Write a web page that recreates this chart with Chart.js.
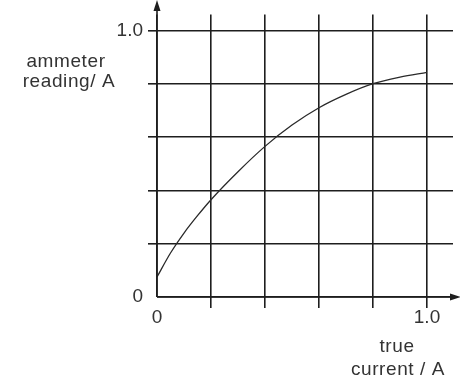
<!DOCTYPE html>
<html>
<head>
<meta charset="utf-8">
<script src="https://cdn.jsdelivr.net/npm/chart.js@4.4.1/dist/chart.umd.min.js"></script>
<style>
  html, body { margin: 0; padding: 0; background: #ffffff; }
  #wrap { width: 460px; height: 383px; }
</style>
</head>
<body>
<div id="wrap"><canvas id="c" width="460" height="383"></canvas></div>
<script>
// True current through the meter (A)
const trueCurrent = [0, 0.05, 0.1, 0.15, 0.2, 0.3, 0.4, 0.5, 0.6, 0.7, 0.8, 0.9, 1.0];
// Corresponding ammeter reading (A)
const ammeterReading = [0.075, 0.165, 0.24, 0.305, 0.365, 0.47, 0.565, 0.645, 0.71, 0.76, 0.80, 0.825, 0.843];
// Grid / tick positions on both axes
const gridValues = [0, 0.2, 0.4, 0.6, 0.8, 1.0];
const labelledTicks = { 0: '0', 1: '1.0' };
const yTitle = ['ammeter', 'reading/ A'];
const xTitle = ['true', 'current / A'];

const INK = '#1e1e1e';
const TEXT = '#333333';
const FONT = '"Liberation Sans", Arial, sans-serif';

const points = trueCurrent.map((x, i) => ({ x, y: ammeterReading[i] }));

// Arrowheads on the axes and the two-line axis captions
const axisDecor = {
  id: 'axisDecor',
  afterDraw(chart) {
    const { ctx, scales: { x, y } } = chart;
    const x0 = x.getPixelForValue(0), y0 = y.getPixelForValue(0);
    ctx.save();
    ctx.strokeStyle = INK;
    ctx.fillStyle = INK;
    ctx.lineWidth = 1.6;
    // vertical axis extension + arrow
    ctx.beginPath();
    ctx.moveTo(x0, y0);
    ctx.lineTo(x0, 6);
    ctx.stroke();
    ctx.beginPath();
    ctx.moveTo(x0, 0);
    ctx.lineTo(x0 - 3.5, 11);
    ctx.lineTo(x0 + 3.5, 11);
    ctx.closePath();
    ctx.fill();
    // horizontal axis extension + arrow
    ctx.beginPath();
    ctx.moveTo(x0, y0);
    ctx.lineTo(455, y0);
    ctx.stroke();
    ctx.beginPath();
    ctx.moveTo(461, y0);
    ctx.lineTo(450, y0 - 3.5);
    ctx.lineTo(450, y0 + 3.5);
    ctx.closePath();
    ctx.fill();

    // captions
    ctx.fillStyle = TEXT;
    ctx.font = '19px ' + FONT;
    if ('letterSpacing' in ctx) ctx.letterSpacing = '0.6px';
    ctx.textAlign = 'center';
    ctx.textBaseline = 'alphabetic';
    ctx.fillText(yTitle[0], 66, 67);
    ctx.fillText(yTitle[1], 69, 87);
    ctx.fillText(xTitle[0], 397, 352);
    ctx.fillText(xTitle[1], 398, 375);
    ctx.restore();
  }
};

new Chart(document.getElementById('c'), {
  type: 'scatter',
  data: {
    datasets: [{
      data: points,
      showLine: true,
      cubicInterpolationMode: 'monotone',
      borderColor: '#2a2a2a',
      borderWidth: 1.3,
      pointRadius: 0,
      fill: false
    }]
  },
  options: {
    responsive: false,
    animation: false,
    layout: { padding: { top: 13, right: 7, left: 0, bottom: 0 } },
    plugins: { legend: { display: false }, tooltip: { enabled: false } },
    scales: {
      x: {
        type: 'linear',
        min: 0,
        max: 296 / 270,
        afterBuildTicks: s => { s.ticks = gridValues.map(v => ({ value: v })); },
        afterFit: s => { s.height = 86; },
        border: { display: false },
        grid: {
          color: INK,
          lineWidth: 1.6,
          drawTicks: true,
          tickLength: 11,
          tickColor: c => (c.tick && c.tick.value === 0 ? 'rgba(0,0,0,0)' : INK),
          tickWidth: 1.6
        },
        ticks: {
          autoSkip: false,
          maxRotation: 0,
          padding: 0,
          color: TEXT,
          font: { family: FONT, size: 19, lineHeight: 1.0 },
          callback: v => (labelledTicks[v] !== undefined ? labelledTicks[v] : '')
        }
      },
      y: {
        type: 'linear',
        min: 0,
        max: 284 / 268,
        afterBuildTicks: s => { s.ticks = gridValues.map(v => ({ value: v })); },
        afterFit: s => { s.width = 157; },
        border: { display: false },
        grid: {
          color: INK,
          lineWidth: 1.6,
          drawTicks: true,
          tickLength: 9,
          tickColor: c => (c.tick && c.tick.value === 0 ? 'rgba(0,0,0,0)' : INK),
          tickWidth: 1.6
        },
        ticks: {
          autoSkip: false,
          padding: 5,
          color: TEXT,
          font: { family: FONT, size: 19, lineHeight: 1.0 },
          callback: v => (labelledTicks[v] !== undefined ? labelledTicks[v] : '')
        }
      }
    }
  },
  plugins: [axisDecor]
});
</script>
</body>
</html>
